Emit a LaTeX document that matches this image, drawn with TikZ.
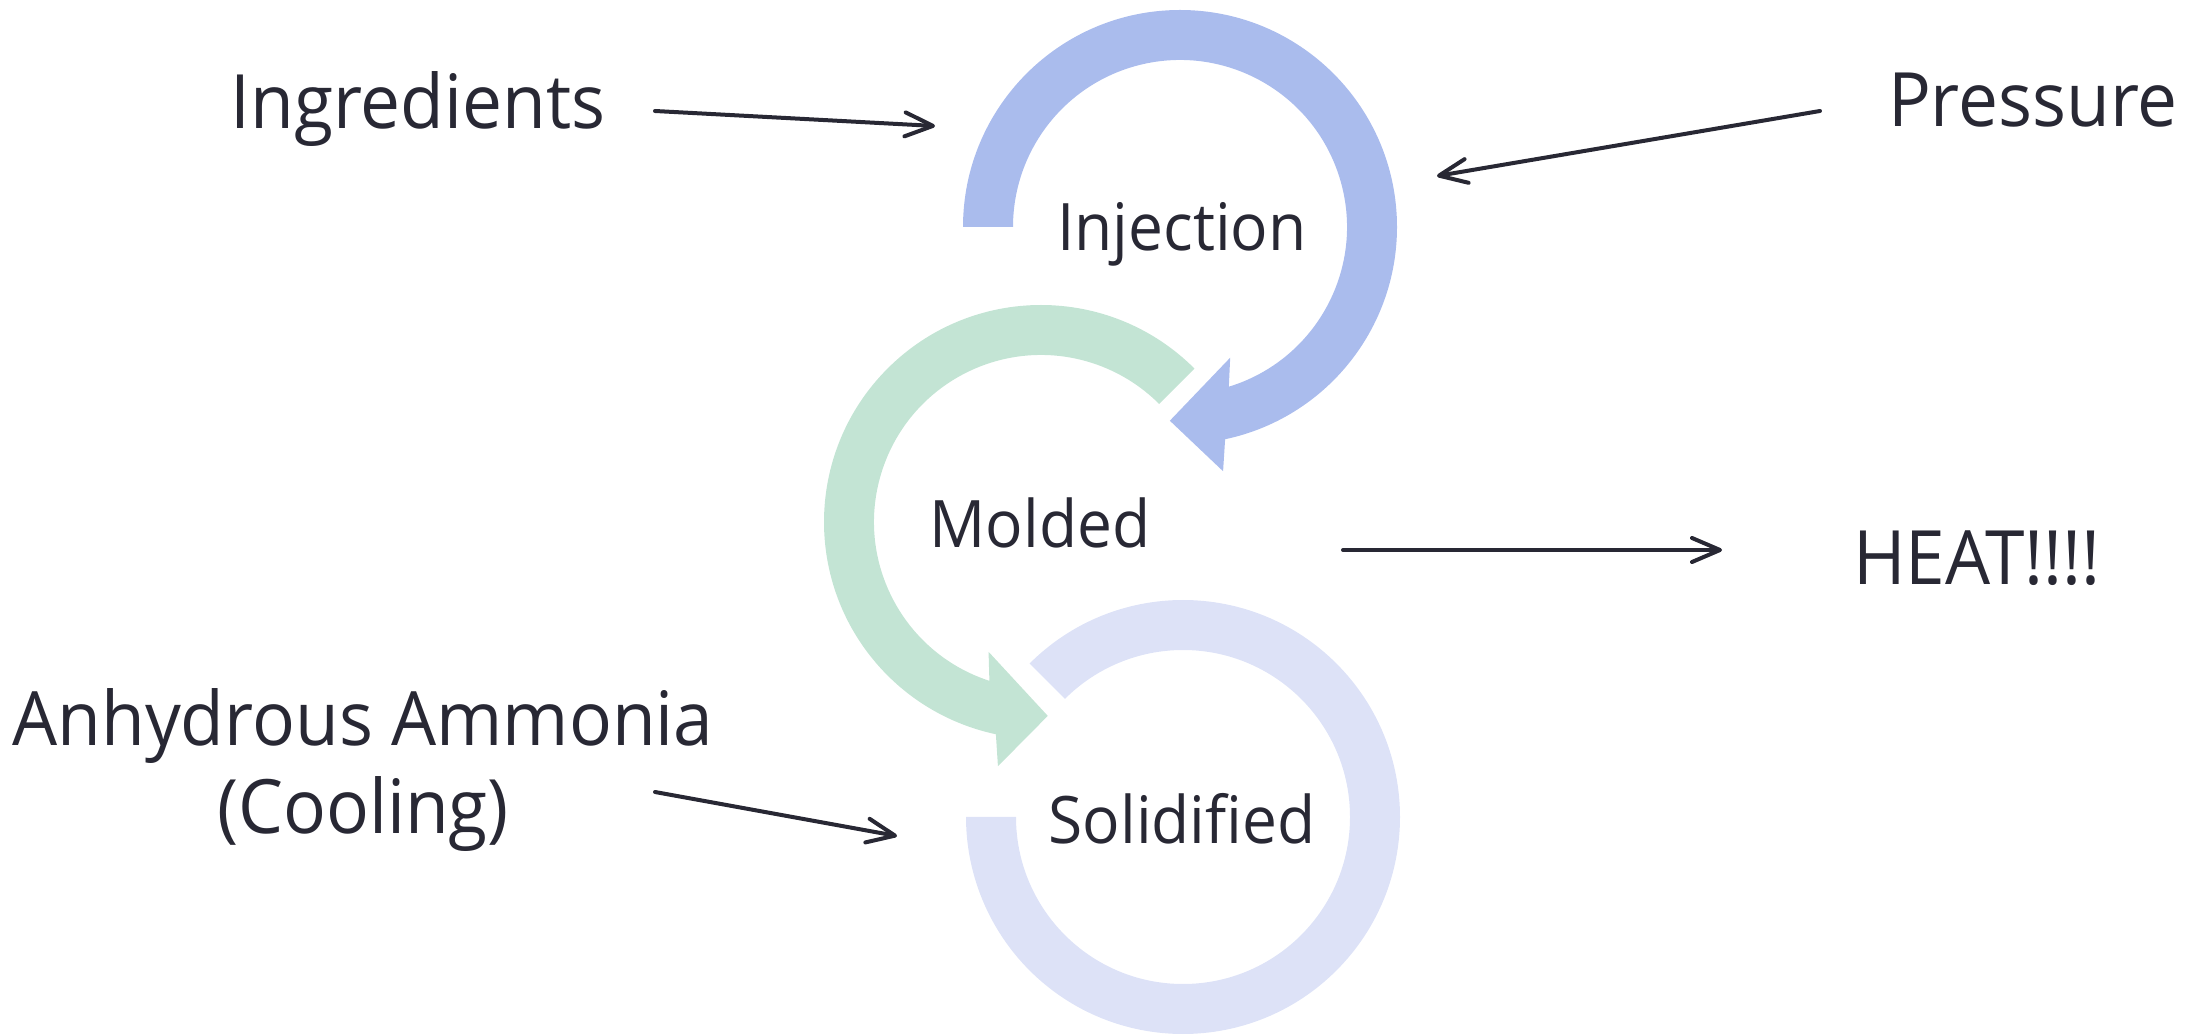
\documentclass[tikz,border=0pt]{standalone}
\usepackage{fontspec}
\setmainfont{Open Sans}[FakeStretch=0.95]
\usetikzlibrary{arrows.meta}
\definecolor{txt}{RGB}{40,40,52}
\definecolor{injblue}{RGB}{170,188,237}
\definecolor{molgreen}{RGB}{195,228,212}
\definecolor{solblue}{RGB}{221,226,247}
\tikzset{
  outerlbl/.style={font=\fontsize{75}{89}\selectfont, text=txt, inner sep=0pt, anchor=base},
  innerlbl/.style={font=\fontsize{65.5}{76}\selectfont, text=txt, inner sep=0pt, anchor=base},
  flow/.style={draw=txt, line width=4pt, line cap=round, line join=round,
    -{Straight Barb[length=28pt,width=24pt,line cap=round,line join=round]}},
}
\begin{document}
\begin{tikzpicture}[x=1pt,y=1pt]
\useasboundingbox (0,0) rectangle (2187,1034);
% circular arrows
\fill[solblue] (1183,217) ++(135:217) arc[start angle=135, end angle=-180, radius=217]
  -- ++(50,0) arc[start angle=-180, end angle=135, radius=167] -- cycle;
\begin{scope}[shift={(1041,512)}]
\fill[molgreen] (45:217) arc[start angle=45, end angle=258, radius=217]
  -- (260:248) -- (272:194) -- (248:140) -- (252:167)
  arc[start angle=252, end angle=45, radius=167] -- cycle;
\end{scope}
\begin{scope}[shift={(1180,807)}]
\fill[injblue] (180:217) arc[start angle=180, end angle=-78, radius=217]
  -- (-80:248) -- (-93:194) -- (-69:140) -- (-73:167)
  arc[start angle=-73, end angle=180, radius=167] -- cycle;
\end{scope}
% labels
\node[outerlbl] (ingr) at (418,905) {Ingredients};
\node[outerlbl] (press) at (2033,907) {Pressure};
\node[outerlbl] (heat) at (1977,449) {HEAT!!!!};
\node[outerlbl, align=center] (amm) at (363,200) {Anhydrous Ammonia\\(Cooling)};
\node[innerlbl] (inj) at (1182,783) {Injection};
\node[innerlbl] (mold) at (1040,486) {Molded};
\node[innerlbl] (sol) at (1182,191) {Solidified};
% connector ends
\coordinate (ingrS) at (655,923);
\coordinate (ingrE) at (935,908);
\coordinate (pressS) at (1820,923);
\coordinate (pressE) at (1437,858);
\coordinate (heatS) at (1343,484);
\coordinate (heatE) at (1722,484);
\coordinate (ammS) at (655,242);
\coordinate (ammE) at (897,198);
\draw[flow] (ingrS) -- (ingrE);
\draw[flow] (pressS) -- (pressE);
\draw[flow] (heatS) -- (heatE);
\draw[flow] (ammS) -- (ammE);
\end{tikzpicture}
\end{document}
